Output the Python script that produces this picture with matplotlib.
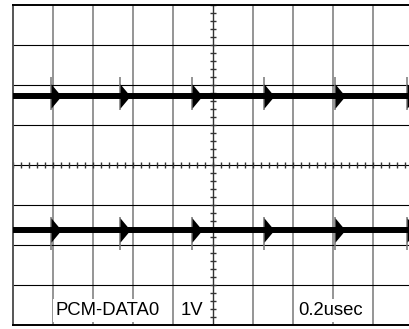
import numpy as np
import matplotlib
matplotlib.use("Agg")
import matplotlib.pyplot as plt

# Scope settings (divisions)
n_xdiv = 10
n_ydiv = 8
# Rising edges of the PCM-DATA0 signal, in divisions (0.2usec/div)
edge_times = [0.95, 2.68, 4.48, 6.28, 8.05, 9.85]
# Signal levels of the two traces, in divisions from the centre line
trace_levels = [1.72, -1.62]
# Labels along the bottom row
channel_label = "PCM-DATA0"
volt_label = "1V"
time_label = "0.2usec"

plt.rcParams['font.family'] = ['Liberation Sans', 'DejaVu Sans']

W, H = 409, 329
fig = plt.figure(figsize=(W / 100, H / 100), dpi=100)
fig.patch.set_facecolor('white')
ax = fig.add_axes([13 / W, 4 / H, 400 / W, 320 / H])
ax.set_xlim(0, n_xdiv)
ax.set_ylim(-n_ydiv / 2, n_ydiv / 2)
ax.set_xticks([])
ax.set_yticks([])
for side in ('left', 'top', 'bottom'):
    ax.spines[side].set_linewidth(1.4)
    ax.spines[side].set_color('black')
ax.spines['left'].set_color('#555555')
ax.spines['right'].set_visible(False)

# Graticule
for xv in range(1, n_xdiv):
    if xv == n_xdiv // 2:
        continue
    ax.axvline(xv, color='#8c8c8c', lw=1.3, zorder=1)
for yv in range(-n_ydiv // 2 + 1, n_ydiv // 2):
    ax.axhline(yv, color='black', lw=0.8, zorder=1)
ax.axvline(n_xdiv / 2, color='#333333', lw=1.0, zorder=1)

# Minor ticks on the centre cross
minor_x = np.arange(0, n_xdiv + 0.01, 0.2)
minor_y = np.arange(-n_ydiv / 2, n_ydiv / 2 + 0.01, 0.2)
ax.plot(minor_x, np.zeros_like(minor_x), ls='none', marker='|', ms=5,
        mew=1.0, color='#333333', zorder=1)
ax.plot(np.full_like(minor_y, n_xdiv / 2), minor_y, ls='none', marker='_', ms=5,
        mew=1.0, color='#333333', zorder=1)

# Traces with edge arrows
arrow = [(0, -12), (10, 0), (0, 12), (0, -12)]
for k, level in enumerate(trace_levels):
    ax.axhline(level, color='black', lw=4.3, zorder=3)
    ax.plot(edge_times, [level] * len(edge_times), ls='none', marker=arrow,
            ms=17.5, color='black', mew=0, zorder=4)
    if k == 0:
        ax.vlines(edge_times, level - 0.35, level + 0.48, color='#777777', lw=1.1, zorder=2)
    else:
        ax.vlines(edge_times, level - 0.5, level + 0.33, color='#777777', lw=1.1, zorder=2)

# Bottom row labels
box = dict(boxstyle='square,pad=0.15', fc='white', ec='none')
y_lab = -n_ydiv / 2 + 0.25
ax.text(2.375, y_lab, channel_label, ha='center', va='baseline', fontsize=13.3,
        bbox=box, zorder=5)
ax.text(4.18, y_lab, volt_label, ha='left', va='baseline', fontsize=13.3,
        bbox=box, zorder=5)
ax.text(7.13, y_lab, time_label, ha='left', va='baseline', fontsize=13.3,
        bbox=box, zorder=5)

fig.savefig("out.png", dpi=100, facecolor='white')
